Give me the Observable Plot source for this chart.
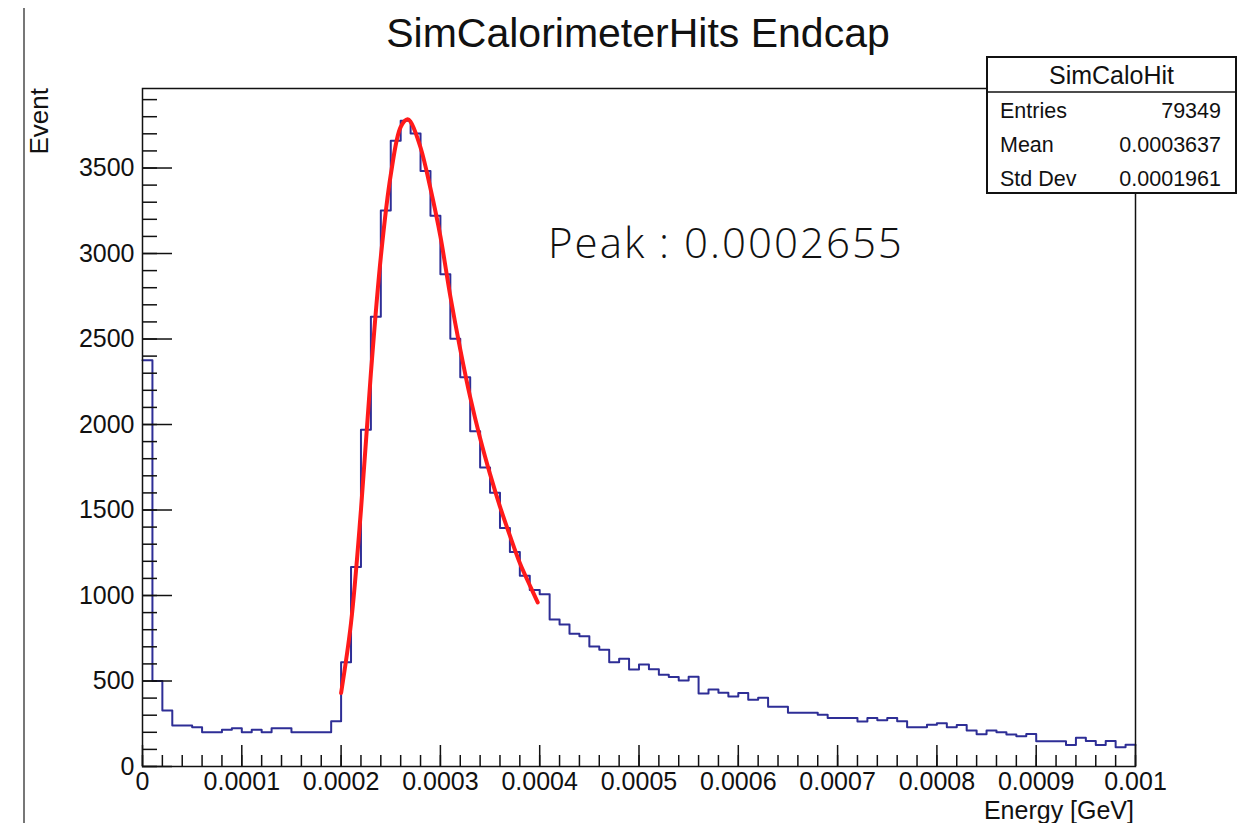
<!DOCTYPE html>
<html><head><meta charset="utf-8">
<script src="https://cdn.jsdelivr.net/npm/d3@7"></script>
<script src="https://cdn.jsdelivr.net/npm/@observablehq/plot@0.6"></script>
<style>
body{margin:0;background:#fff;}
#wrap{position:relative;width:1247px;height:823px;overflow:hidden;background:#fff;}
#wrap svg{position:absolute;left:0;top:0;}
</style></head><body><div id="wrap"></div>
<script>
// Histogram contents (100 bins, 0 .. 0.001 GeV)
const binLow = 0;
const binWidth = 0.00001;
const binValues = [
  2376, 500, 328, 240, 240, 230, 201, 201, 215, 224,
  201, 215, 201, 224, 224, 201, 201, 201, 201, 265,
  610, 1166, 1970, 2630, 3252, 3659, 3776, 3702, 3483, 3221,
  2878, 2501, 2277, 1960, 1748, 1601, 1395, 1254, 1116, 1032,
  1008, 860, 831, 776, 761, 702, 683, 610, 630, 567,
  597, 568, 537, 523, 503, 525, 427, 451, 431, 410,
  430, 390, 402, 349, 349, 315, 315, 315, 303, 284,
  284, 284, 263, 284, 270, 284, 264, 230, 230, 244,
  253, 230, 242, 211, 189, 211, 200, 187, 177, 190,
  148, 148, 148, 126, 168, 149, 126, 149, 113, 127
];
// Fit curve (red)
const fitEnergy = [0.0002, 0.00021, 0.00022, 0.00023, 0.00024, 0.00025, 0.00026, 0.000267, 0.00027, 0.00028, 0.00029,
  0.0003, 0.00031, 0.00032, 0.00033, 0.00034, 0.00035, 0.00036, 0.00037, 0.00038, 0.00039, 0.000398];
const fitCounts = [430, 840, 1500, 2300, 2980, 3460, 3740, 3785, 3770, 3620, 3380,
  3100, 2750, 2440, 2160, 1920, 1710, 1520, 1350, 1190, 1060, 960];
// Axes
const yMajorTicks = [0, 500, 1000, 1500, 2000, 2500, 3000, 3500];
const xMajorTicks = [0, 0.0001, 0.0002, 0.0003, 0.0004, 0.0005, 0.0006, 0.0007, 0.0008, 0.0009, 0.001];
const xTickLabels = ["0", "0.0001", "0.0002", "0.0003", "0.0004", "0.0005", "0.0006", "0.0007", "0.0008", "0.0009", "0.001"];
const yMinorTicks = d3.range(0, 3901, 100);
const xMinorTicks = d3.range(0, 51).map(i => i * 0.00002);
// Texts
const titleText = "SimCalorimeterHits Endcap";
const yLabel = "Event";
const xLabel = "Energy [GeV]";
const statsName = "SimCaloHit";
const statsRows = [["Entries", "79349"], ["Mean", "0.0003637"], ["Std Dev", "0.0001961"]];
const peakText = "Peak : 0.0002655";

const W = 1247, H = 823, mL = 142, mR = 112, mT = 88, mB = 57;
const fw = W - mL - mR, fh = H - mT - mB;

const histPts = binValues.map((v, i) => ({x: binLow + i * binWidth, y: v}));
histPts.push({x: binLow + binValues.length * binWidth, y: binValues[binValues.length - 1]});
const fitPts = fitEnergy.map((e, i) => ({x: e, y: fitCounts[i]}));
const xLabelOf = new Map(xMajorTicks.map((t, i) => [t, xTickLabels[i]]));

const chart = Plot.plot({
  width: W, height: H,
  marginLeft: mL, marginRight: mR, marginTop: mT, marginBottom: mB,
  style: {fontFamily: "'Liberation Sans', Arial, sans-serif", fontSize: "25px", color: "#111", background: "transparent"},
  x: {domain: [0, 0.001], axis: null},
  y: {domain: [0, 3965], axis: null},
  marks: [
    Plot.line(histPts, {x: "x", y: "y", curve: "step-after", stroke: "#2e2e96", strokeWidth: 2}),
    Plot.line(fitPts, {x: "x", y: "y", curve: "catmull-rom", stroke: "#ff1a1a", strokeWidth: 4}),
    Plot.tickY(yMinorTicks, {y: d => d, insetRight: fw - 15, stroke: "#111", strokeWidth: 1.5}),
    Plot.tickY(yMajorTicks, {y: d => d, insetRight: fw - 30, stroke: "#111", strokeWidth: 1.5}),
    Plot.tickX(xMinorTicks, {x: d => d, insetTop: fh - 11, stroke: "#111", strokeWidth: 1.5}),
    Plot.tickX(xMajorTicks, {x: d => d, insetTop: fh - 21, stroke: "#111", strokeWidth: 1.5}),
    Plot.axisY(yMajorTicks, {anchor: "left", tickSize: 0, tickPadding: 8, label: null, fontSize: 25, tickFormat: d => String(d)}),
    Plot.axisX(xMajorTicks, {anchor: "bottom", tickSize: 0, tickPadding: 6, label: null, fontSize: 25, tickFormat: d => xLabelOf.get(d)}),
    Plot.frame({stroke: "#111", strokeWidth: 1.5})
  ]
});
document.getElementById("wrap").appendChild(chart);

const svg = d3.select(chart);
const font = "'Liberation Sans', Arial, sans-serif";
// left edge line of the screenshot
svg.append("line").attr("x1", 24).attr("x2", 24).attr("y1", 8).attr("y2", H)
  .attr("stroke", "#777").attr("stroke-width", 2);
// title
svg.append("text").attr("x", 638).attr("y", 47).attr("text-anchor", "middle")
  .attr("font-family", font).attr("font-size", 41).attr("fill", "#111").text(titleText);
// y label
svg.append("text").attr("transform", "translate(48,88) rotate(-90)").attr("text-anchor", "end")
  .attr("font-family", font).attr("font-size", 26).attr("fill", "#111").text(yLabel);
// x label
svg.append("text").attr("x", 1134).attr("y", 819).attr("text-anchor", "end")
  .attr("font-family", font).attr("font-size", 25).attr("fill", "#111").text(xLabel);
// peak annotation
svg.append("text").attr("x", 548).attr("y", 258).attr("text-anchor", "start")
  .attr("font-family", "'Open Sans', 'Noto Sans', sans-serif").attr("font-weight", 300)
  .attr("font-size", 42).attr("letter-spacing", 2).attr("fill", "#111").text(peakText);
// stats box
const bx = 987, by = 57, bw = 249, bh = 136;
const g = svg.append("g");
g.append("rect").attr("x", bx).attr("y", by).attr("width", bw).attr("height", bh)
  .attr("fill", "#fff").attr("stroke", "#111").attr("stroke-width", 2);
g.append("line").attr("x1", bx).attr("x2", bx + bw).attr("y1", 92).attr("y2", 92)
  .attr("stroke", "#111").attr("stroke-width", 1.5);
g.append("text").attr("x", bx + bw / 2).attr("y", 84).attr("text-anchor", "middle")
  .attr("font-family", font).attr("font-size", 25).attr("fill", "#111").text(statsName);
const rowY = [118, 152, 186];
statsRows.forEach((r, i) => {
  g.append("text").attr("x", 1000).attr("y", rowY[i]).attr("text-anchor", "start").attr("font-family", font)
    .attr("font-size", 21.5).attr("fill", "#111").text(r[0]);
  g.append("text").attr("x", 1221).attr("y", rowY[i]).attr("text-anchor", "end").attr("font-family", font)
    .attr("font-size", 21.5).attr("fill", "#111").text(r[1]);
});
</script></body></html>
